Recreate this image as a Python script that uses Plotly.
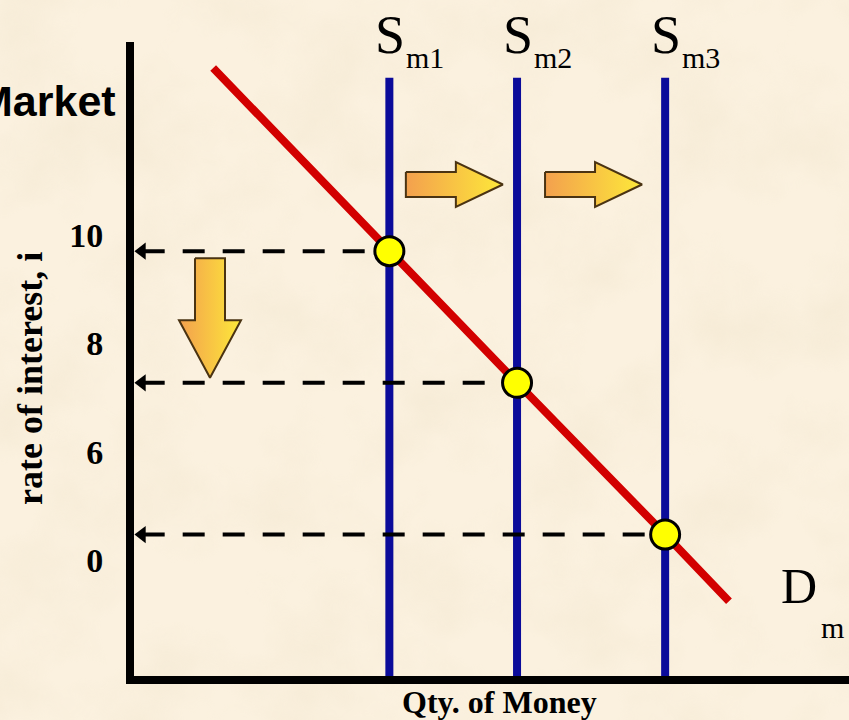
import base64
import plotly.graph_objects as go

# ---- data -------------------------------------------------------------
# money supply levels (quantity of money) for the three supply curves
supply_names = ["m1", "m2", "m3"]
supply_qty = [100, 150, 208]

# money demand curve D_m: quantity of money vs. rate of interest
demand_qty = [31, 100, 150, 208, 233]
demand_rate = [13.08, 9.70, 7.27, 4.47, 3.24]

# equilibrium rates where each supply curve meets demand
eq_rate = [9.70, 7.27, 4.47]

# y-axis tick positions and their printed labels
y_tickvals = [10, 8, 6, 4]
y_ticktext = ["10", "8", "6", "0"]

# ---- geometry helpers ------------------------------------------------
W, H = 849, 720
ML, MR, MT, MB = 134, 0, 42, 44
PW, PH = W - ML - MR, H - MT - MB
X_RANGE = [0, 280]
Y_RANGE = [1.86, 13.56]
SUPPLY_TOP = 12.9
DASH_START = 3.4

KX = PW / (X_RANGE[1] - X_RANGE[0])
KY = PH / (Y_RANGE[1] - Y_RANGE[0])


def px_x(px):
    return (px - ML) / PW


def px_y(py):
    return (H - MB - py) / PH


SERIF = "Liberation Serif, Times New Roman, serif"
SANS = "Liberation Sans, Arial, sans-serif"
BLUE = "#0b0b9a"
RED = "#d20000"
ARROW_EDGE = "#4a3312"
ARROW_FILL = [[0, "#f3a04e"], [1, "#fde83a"]]

fig = go.Figure()

# parchment background
svg = f"""<svg xmlns='http://www.w3.org/2000/svg' width='{W}' height='{H}'>
<filter id='n' x='0' y='0' width='100%' height='100%'>
<feTurbulence type='fractalNoise' baseFrequency='0.011' numOctaves='4' seed='11'/>
<feColorMatrix type='matrix' values='0 0 0 0 0.88  0 0 0 0 0.79  0 0 0 0 0.62  1.8 0 0 0 -0.72'/>
</filter>
<rect width='100%' height='100%' fill='#fbf1df'/>
<rect width='100%' height='100%' filter='url(#n)' opacity='0.55'/>
</svg>"""
bg_uri = "data:image/svg+xml;base64," + base64.b64encode(svg.encode()).decode()

# supply curves (vertical)
for q in supply_qty:
    fig.add_trace(go.Scatter(
        x=[q, q], y=[Y_RANGE[0], SUPPLY_TOP], mode="lines",
        line=dict(color=BLUE, width=8), hoverinfo="skip", showlegend=False))

# demand curve
fig.add_trace(go.Scatter(
    x=demand_qty, y=demand_rate, mode="lines",
    line=dict(color=RED, width=8), hoverinfo="skip", showlegend=False))

# dashed guides from each equilibrium back to the rate axis
for q, r in zip(supply_qty, eq_rate):
    fig.add_trace(go.Scatter(
        x=[DASH_START, q], y=[r, r], mode="lines",
        line=dict(color="black", width=4, dash="22px,18px"),
        hoverinfo="skip", showlegend=False))
fig.add_trace(go.Scatter(
    x=[DASH_START - 0.3] * len(eq_rate), y=eq_rate, mode="markers",
    marker=dict(symbol="triangle-left", size=15, color="black"),
    hoverinfo="skip", showlegend=False, cliponaxis=False))

# block arrows: supply shifts right, rate falls
BODY_H, HEAD_H = 12.5 / KY, 22.5 / KY
HEAD_START, ARROW_LEN = 50 / KX, 97 / KX
shift_start = [supply_qty[0] + 16.5 / KX, supply_qty[1] + 28 / KX]
shift_rate = Y_RANGE[1] - 142.5 / KY
for x0 in shift_start:
    xs = [x0, x0 + HEAD_START, x0 + HEAD_START, x0 + ARROW_LEN,
          x0 + HEAD_START, x0 + HEAD_START, x0, x0]
    ys = [shift_rate + BODY_H, shift_rate + BODY_H, shift_rate + HEAD_H,
          shift_rate, shift_rate - HEAD_H, shift_rate - BODY_H,
          shift_rate - BODY_H, shift_rate + BODY_H]
    fig.add_trace(go.Scatter(
        x=xs, y=ys, mode="lines", fill="toself",
        fillgradient=dict(type="horizontal", colorscale=ARROW_FILL),
        line=dict(color=ARROW_EDGE, width=2), hoverinfo="skip",
        showlegend=False))

drop_x = (210 - ML) / KX
BODY_W, HEAD_W = 15 / KX, 31 / KX
drop_top = eq_rate[0] - 7 / KY
drop_head = eq_rate[0] - 69 / KY
drop_tip = eq_rate[1] + 5 / KY
fig.add_trace(go.Scatter(
    x=[drop_x - BODY_W, drop_x + BODY_W, drop_x + BODY_W, drop_x + HEAD_W,
       drop_x, drop_x - HEAD_W, drop_x - BODY_W, drop_x - BODY_W],
    y=[drop_top, drop_top, drop_head, drop_head, drop_tip, drop_head,
       drop_head, drop_top],
    mode="lines", fill="toself",
    fillgradient=dict(type="horizontal", colorscale=ARROW_FILL),
    line=dict(color=ARROW_EDGE, width=2), hoverinfo="skip", showlegend=False))

# equilibrium points
fig.add_trace(go.Scatter(
    x=supply_qty, y=eq_rate, mode="markers",
    marker=dict(size=29, color="#ffff00", line=dict(color="black", width=3)),
    hoverinfo="skip", showlegend=False, cliponaxis=False))

annotations = []
# supply curve labels S_m1, S_m2, S_m3
for name, q in zip(supply_names, supply_qty):
    annotations.append(dict(
        x=q, xref="x", xshift=-16, xanchor="left",
        y=px_y(35), yref="paper", yanchor="middle",
        text="S", showarrow=False,
        font=dict(family=SERIF, size=54, color="black")))
    annotations.append(dict(
        x=q, xref="x", xshift=15, xanchor="left",
        y=px_y(58), yref="paper", yanchor="middle",
        text=name, showarrow=False,
        font=dict(family=SERIF, size=30, color="black")))

# demand label D_m
annotations.append(dict(
    x=px_x(779), xref="paper", xanchor="left",
    y=px_y(586), yref="paper", yanchor="middle",
    text="D", showarrow=False, font=dict(family=SERIF, size=50, color="black")))
annotations.append(dict(
    x=px_x(819), xref="paper", xanchor="left",
    y=px_y(627), yref="paper", yanchor="middle",
    text="m", showarrow=False, font=dict(family=SERIF, size=30, color="black")))

# heading
annotations.append(dict(
    x=px_x(118), xref="paper", xanchor="right",
    y=px_y(101), yref="paper", yanchor="middle",
    text="Market", showarrow=False,
    font=dict(family=SANS, size=43, color="black", weight="bold")))

# axis titles
annotations.append(dict(
    x=px_x(499), xref="paper", xanchor="center",
    y=px_y(702), yref="paper", yanchor="middle",
    text="Qty. of Money", showarrow=False,
    font=dict(family=SERIF, size=32, color="black", weight="bold")))
annotations.append(dict(
    x=px_x(30), xref="paper", xanchor="center",
    y=px_y(379), yref="paper", yanchor="middle",
    text="rate of interest, i", textangle=-90, showarrow=False,
    font=dict(family=SERIF, size=36, color="black", weight="bold")))

fig.update_layout(
    width=W, height=H,
    margin=dict(l=ML, r=MR, t=MT, b=MB, pad=0),
    paper_bgcolor="#fbf1df",
    plot_bgcolor="rgba(0,0,0,0)",
    showlegend=False,
    annotations=annotations,
    images=[dict(
        source=bg_uri, xref="paper", yref="paper",
        x=-ML / PW, y=(H - MB) / PH, sizex=W / PW, sizey=H / PH,
        xanchor="left", yanchor="top", sizing="stretch", layer="below")],
    xaxis=dict(
        range=X_RANGE, showgrid=False, zeroline=False,
        showline=True, linecolor="black", linewidth=8,
        showticklabels=False, ticks="", fixedrange=True),
    yaxis=dict(
        range=Y_RANGE, showgrid=False, zeroline=False,
        showline=True, linecolor="black", linewidth=8,
        tickvals=y_tickvals, ticktext=y_ticktext,
        ticks="outside", ticklen=16, tickcolor="rgba(0,0,0,0)",
        tickfont=dict(family=SERIF, size=34, color="black", weight="bold"),
        fixedrange=True),
)

fig.write_html("out.html")
